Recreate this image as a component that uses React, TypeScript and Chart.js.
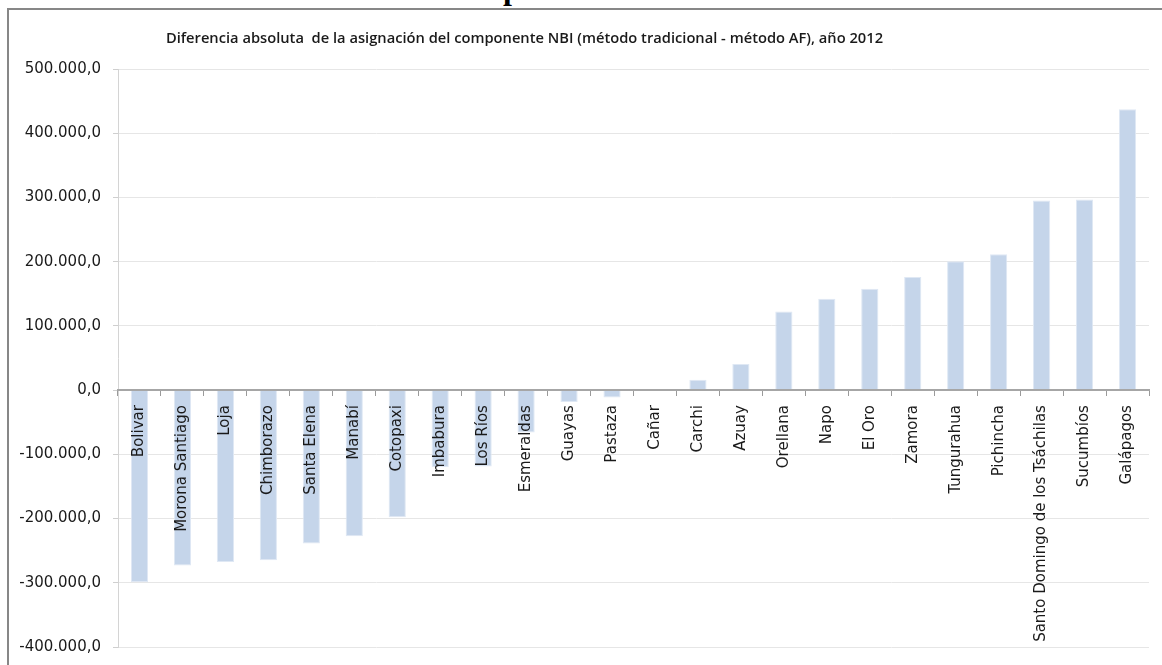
import React, { useEffect, useRef } from "react";
import { Chart, registerables } from "chart.js";

Chart.register(...registerables);

// Provincias ordenadas por diferencia absoluta
const provincias: string[] = [
  "Bolivar",
  "Morona Santiago",
  "Loja",
  "Chimborazo",
  "Santa Elena",
  "Manabí",
  "Cotopaxi",
  "Imbabura",
  "Los Ríos",
  "Esmeraldas",
  "Guayas",
  "Pastaza",
  "Cañar",
  "Carchi",
  "Azuay",
  "Orellana",
  "Napo",
  "El Oro",
  "Zamora",
  "Tungurahua",
  "Pichincha",
  "Santo Domingo de los Tsáchilas",
  "Sucumbíos",
  "Galápagos",
];

// Diferencia (método tradicional - método AF), en dólares
const diferencias: number[] = [
  -299000, -273000, -267500, -265000, -239000, -227500, -198000, -120300,
  -118800, -66000, -18700, -11400, 1200, 16200, 40600, 122300, 142200,
  157800, 176000, 200500, 211400, 295300, 296900, 437500,
];

const tituloGrafico =
  "Diferencia absoluta  de la asignación del componente NBI (método tradicional - método AF), año 2012";

const ejeMin = -400000;
const ejeMax = 500000;
const ejePaso = 100000;

const fuenteEjes = "'DejaVu Sans', sans-serif";
const fuenteTitulo = "'Open Sans', 'Noto Sans', sans-serif";

function formatoNumero(v: number): string {
  const entero = Math.abs(Math.round(v))
    .toString()
    .replace(/\B(?=(\d{3})+(?!\d))/g, ".");
  return (v < 0 ? "-" : "") + entero + ",0";
}

export default function App() {
  const canvasRef = useRef<HTMLCanvasElement | null>(null);

  useEffect(() => {
    if (!canvasRef.current) return;
    const chart = new Chart(canvasRef.current, {
      type: "bar",
      data: {
        labels: provincias,
        datasets: [
          {
            data: diferencias,
            backgroundColor: "#c5d5ea",
            borderColor: "#dfe8f4",
            borderWidth: 1,
            barPercentage: 0.4,
            categoryPercentage: 1,
          },
        ],
      },
      options: {
        animation: false,
        responsive: false,
        maintainAspectRatio: false,
        layout: { padding: { left: 0, right: 13, top: 69, bottom: 18 } },
        plugins: {
          legend: { display: false },
          tooltip: { enabled: false },
          title: { display: false },
        },
        scales: {
          x: {
            position: { y: 0 } as any,
            offset: true,
            afterFit: (scale: any) => {
              scale.paddingTop = 0;
              scale.paddingBottom = 0;
              scale.paddingLeft = 0;
              scale.paddingRight = 0;
            },
            grid: {
              display: true,
              drawOnChartArea: false,
              drawTicks: true,
              tickLength: 5,
              offset: true,
              color: "#9a9a9a",
            },
            border: { display: true, color: "#a6a6a6", width: 2, z: 1 },
            ticks: {
              autoSkip: false,
              minRotation: 90,
              maxRotation: 90,
              padding: 10,
              z: 1,
              color: "#1a1a1a",
              font: { family: fuenteEjes, size: 15 },
            },
          },
          y: {
            min: ejeMin,
            max: ejeMax,
            afterFit: (scale: any) => {
              scale.width = 118;
              scale.paddingTop = 0;
              scale.paddingBottom = 0;
            },
            grid: {
              color: "#e6e6e6",
              tickLength: 5,
              tickColor: "#cfcfcf",
            },
            border: { display: true, color: "#d4d4d4", width: 1 },
            ticks: {
              stepSize: ejePaso,
              padding: 12,
              color: "#1a1a1a",
              font: { family: fuenteEjes, size: 15 },
              callback: (v: any) => formatoNumero(Number(v)),
            },
          },
        },
      },
    });
    return () => chart.destroy();
  }, []);

  return (
    <div
      style={{
        position: "fixed",
        left: 0,
        top: 0,
        width: 1162,
        height: 665,
        overflow: "hidden",
        background: "#ffffff",
      }}
    >
      <div
        style={{
          position: "absolute",
          left: 0,
          top: 0,
          width: 1162,
          height: 7,
          overflow: "hidden",
        }}
      >
        <span
          style={{
            position: "absolute",
            left: 503,
            top: -28,
            fontFamily: "'Liberation Serif', serif",
            fontWeight: 700,
            fontSize: 32,
            lineHeight: 1,
            color: "#000",
          }}
        >
          p
        </span>
      </div>
      <div
        style={{
          position: "absolute",
          left: 7,
          top: 8,
          width: 1200,
          height: 700,
          borderTop: "2px solid #878787",
          borderLeft: "2px solid #878787",
        }}
      />
      <canvas
        ref={canvasRef}
        width={1162}
        height={665}
        style={{ position: "absolute", left: 0, top: 0 }}
      />
      <div
        style={{
          position: "absolute",
          left: 0,
          top: 27,
          width: 1049,
          textAlign: "center",
          whiteSpace: "pre",
          fontFamily: fuenteTitulo,
          fontWeight: 600,
          fontSize: 14.7,
          color: "#1a1a1a",
        }}
      >
        {tituloGrafico}
      </div>
    </div>
  );
}
